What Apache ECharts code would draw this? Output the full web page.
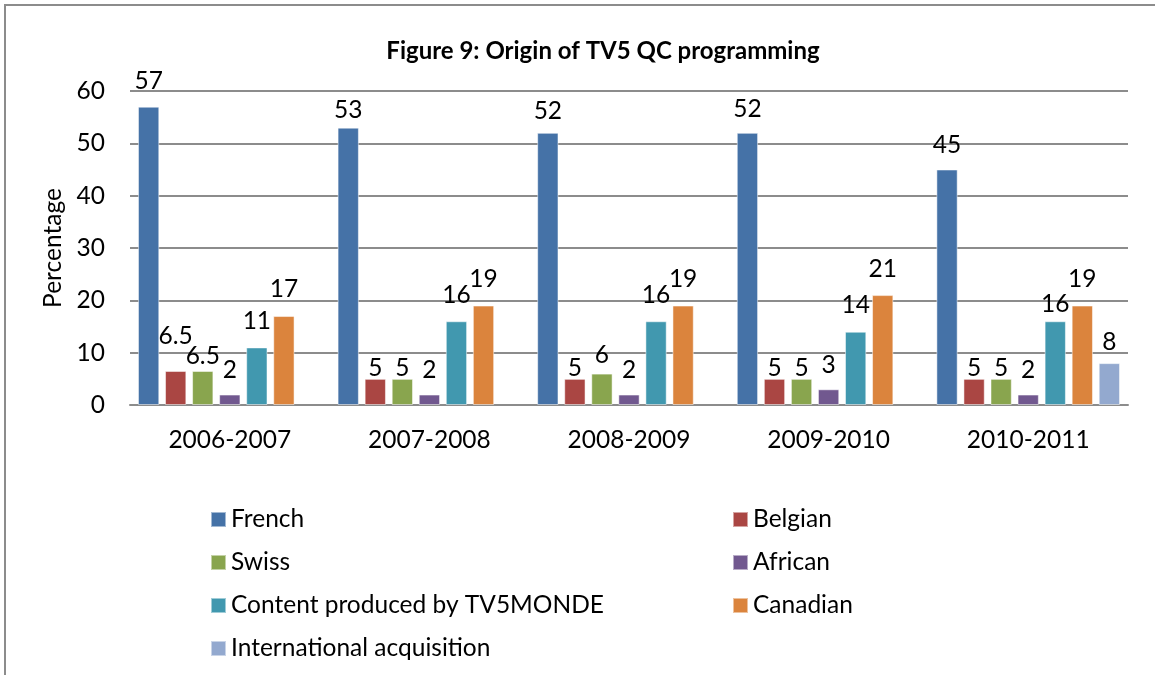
<!DOCTYPE html>
<html>
<head>
<meta charset="utf-8">
<script src="https://cdn.jsdelivr.net/npm/echarts@6/dist/echarts.min.js"></script>
<style>html,body{margin:0;padding:0;background:#fff}#c{width:1155px;height:675px}</style>
</head>
<body>
<div id="c"></div>
<script>
const categories = ['2006-2007', '2007-2008', '2008-2009', '2009-2010', '2010-2011'];
const french = [57, 53, 52, 52, 45];
const belgian = [6.5, 5, 5, 5, 5];
const swiss = [6.5, 5, 6, 5, 5];
const african = [2, 2, 2, 3, 2];
const content = [11, 16, 16, 14, 16];
const canadian = [17, 19, 19, 21, 19];
const international = [null, null, null, null, 8];
const yTicks = [0, 10, 20, 30, 40, 50, 60];

const FONT = 'Lato, "Open Sans", sans-serif';
const FS = 24.5;
// label placement (style only): series distance and a few per-item overrides
const seriesDefs = [
  ['French', french, '#4572A7', 13, {1: 5, 2: 9, 3: 11, 4: 12}],
  ['Belgian', belgian, '#AA4643', -2, {0: 22}],
  ['Swiss', swiss, '#89A54E', -2, {0: 2, 2: 6}],
  ['African', african, '#71588F', 12, {}],
  ['Content produced by TV5MONDE', content, '#4198AF', 14, {4: 5}],
  ['Canadian', canadian, '#DB843D', 14, {}],
  ['International acquisition', international, '#93A9CF', 9, {}]
];

const chart = echarts.init(document.getElementById('c'), null, {renderer: 'canvas'});
const legendCommon = {
  orient: 'vertical', icon: 'rect', itemWidth: 15, itemHeight: 15, itemGap: 18,
  textStyle: {fontFamily: FONT, fontSize: FS, color: '#000', lineHeight: 25}, selectedMode: false
};
chart.setOption({
  animation: false,
  backgroundColor: '#fff',
  graphic: [{type: 'rect', shape: {x: 5, y: 5, width: 2000, height: 2000}, style: {fill: 'none', stroke: '#8c8c8c', lineWidth: 2}}],
  title: {
    text: 'Figure 9: Origin of TV5 QC programming', left: 598, top: 34, textAlign: 'center',
    textStyle: {fontFamily: FONT, fontSize: 24, fontWeight: 'bold', color: '#000'}
  },
  legend: [
    Object.assign({left: 205, top: 502, data: ['French', 'Swiss', 'Content produced by TV5MONDE', 'International acquisition']}, legendCommon),
    Object.assign({left: 727, top: 502, data: ['Belgian', 'African', 'Canadian']}, legendCommon)
  ],
  grid: {left: 130, right: 27, top: 91, bottom: 270, containLabel: false},
  xAxis: {
    type: 'category', data: categories,
    axisLine: {lineStyle: {color: '#8c8c8c', width: 2}}, axisTick: {show: false},
    axisLabel: {fontFamily: FONT, fontSize: FS, color: '#000', margin: 23}
  },
  yAxis: {
    type: 'value', min: 0, max: 60, interval: 10,
    name: 'Percentage', nameLocation: 'middle', nameGap: 63,
    nameTextStyle: {fontFamily: FONT, fontSize: FS, color: '#000'},
    axisLine: {show: false}, axisTick: {show: false},
    axisLabel: {fontFamily: FONT, fontSize: FS, color: '#000', margin: 25,
      formatter: v => yTicks.includes(v) ? String(v) : ''},
    splitLine: {lineStyle: {color: '#8c8c8c', width: 2}}
  },
  series: seriesDefs.map(([name, data, color, dist, over]) => ({
    name, type: 'bar',
    data: data.map((v, i) => (i in over) ? {value: v, label: {distance: over[i]}} : v),
    barGap: '27%', barCategoryGap: '8%',
    itemStyle: {color, borderColor: 'rgba(255,255,255,0.5)', borderWidth: 1},
    label: {show: true, position: 'top', distance: dist, fontFamily: FONT, fontSize: FS, color: '#000'}
  }))
});
</script>
</body>
</html>
